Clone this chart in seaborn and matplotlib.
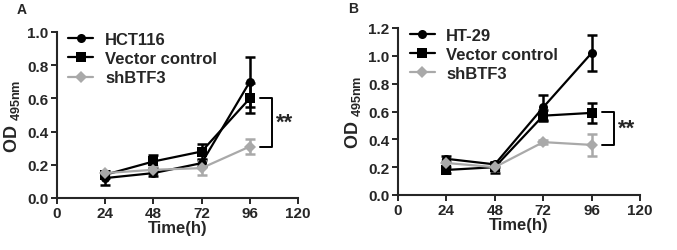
import seaborn as sns
import numpy as np
import pandas as pd
import matplotlib.pyplot as plt

sns.set_style('ticks')
plt.rcParams['font.family'] = ['Liberation Sans', 'DejaVu Sans']
plt.rcParams['font.weight'] = 'bold'
plt.rcParams['mathtext.fontset'] = 'custom'
plt.rcParams['mathtext.bf'] = 'Liberation Sans:bold'
plt.rcParams['mathtext.rm'] = 'Liberation Sans:bold'

hours = [24, 48, 72, 96]

# panel A
a_names = ['HCT116', 'Vector control', 'shBTF3']
a_mean = [[0.12, 0.15, 0.21, 0.70],
          [0.14, 0.22, 0.28, 0.60],
          [0.15, 0.17, 0.18, 0.31]]
a_err = [[0.04, 0.02, 0.02, 0.15],
         [0.02, 0.04, 0.045, 0.09],
         [0.015, 0.02, 0.04, 0.045]]

# panel B
b_names = ['HT-29', 'Vector control', 'shBTF3']
b_mean = [[0.26, 0.22, 0.63, 1.02],
          [0.18, 0.20, 0.57, 0.59],
          [0.23, 0.20, 0.38, 0.36]]
b_err = [[0.02, 0.02, 0.09, 0.13],
         [0.02, 0.04, 0.04, 0.07],
         [0.02, 0.02, 0.015, 0.08]]

colors = ['black', 'black', '#a9a9a9']
markers = ['o', 's', 'D']


def panel(ax, names, means, errs, ymax, pair):
    rows = []
    for n, m in zip(names, means):
        for h, v in zip(hours, m):
            rows.append({'Time': h, 'OD': v, 'group': n})
    df = pd.DataFrame(rows)
    for i, n in enumerate(names):
        ax.errorbar(hours, means[i], yerr=errs[i], fmt='none', ecolor=colors[i],
                    elinewidth=1.8, capsize=3.5, capthick=1.8, zorder=2)
    sns.lineplot(data=df, x='Time', y='OD', hue='group', style='group',
                 palette=dict(zip(names, colors)), markers=dict(zip(names, markers)),
                 dashes=False, markersize=6.5, linewidth=1.6, markeredgewidth=0,
                 ax=ax, zorder=3)
    ax.set_xlim(0, 120)
    ax.set_xticks([0, 24, 48, 72, 96, 120])
    ax.set_ylim(0, ymax)
    ax.set_yticks(np.arange(0, ymax + 0.01, 0.2))
    ax.yaxis.set_major_formatter(plt.FormatStrFormatter('%.1f'))
    ax.tick_params(width=1.4, length=4, labelsize=11, pad=2)
    for s in ['left', 'bottom']:
        ax.spines[s].set_linewidth(1.5)
    sns.despine(ax=ax)
    ax.set_xlabel('Time(h)', fontsize=12, fontweight='bold', labelpad=0)
    ax.set_ylabel(r'OD $_{\mathbf{495nm}}$', fontsize=13, fontweight='bold',
                  labelpad=4)
    leg = ax.legend(loc='upper left', frameon=False, fontsize=12,
                    handlelength=1.5, borderaxespad=0.0, labelspacing=0.25,
                    handletextpad=0.7, bbox_to_anchor=(0.02, 1.04))
    for t in leg.get_texts():
        t.set_fontweight('bold')
    # significance bracket
    hi, lo = pair
    ax.plot([101, 107, 107, 101], [hi, hi, lo, lo], color='black', lw=1.4,
            clip_on=False)
    ax.text(109, (hi + lo) / 2, '**', fontsize=16, fontweight='bold',
            va='center', ha='left')


fig = plt.figure(figsize=(6.77, 2.51), dpi=100)
ax1 = fig.add_axes([57 / 677, 52 / 251, 241 / 677, 166 / 251])
ax2 = fig.add_axes([398 / 677, 55 / 251, 242 / 677, 167 / 251])
panel(ax1, a_names, a_mean, a_err, 1.0, (0.60, 0.31))
panel(ax2, b_names, b_mean, b_err, 1.2, (0.60, 0.36))
fig.text(17 / 677, 1 - 10 / 251, 'A', fontsize=10, fontweight='bold', va='center')
fig.text(348 / 677, 1 - 9 / 251, 'B', fontsize=10, fontweight='bold', va='center')
fig.savefig('out.png', dpi=100)
